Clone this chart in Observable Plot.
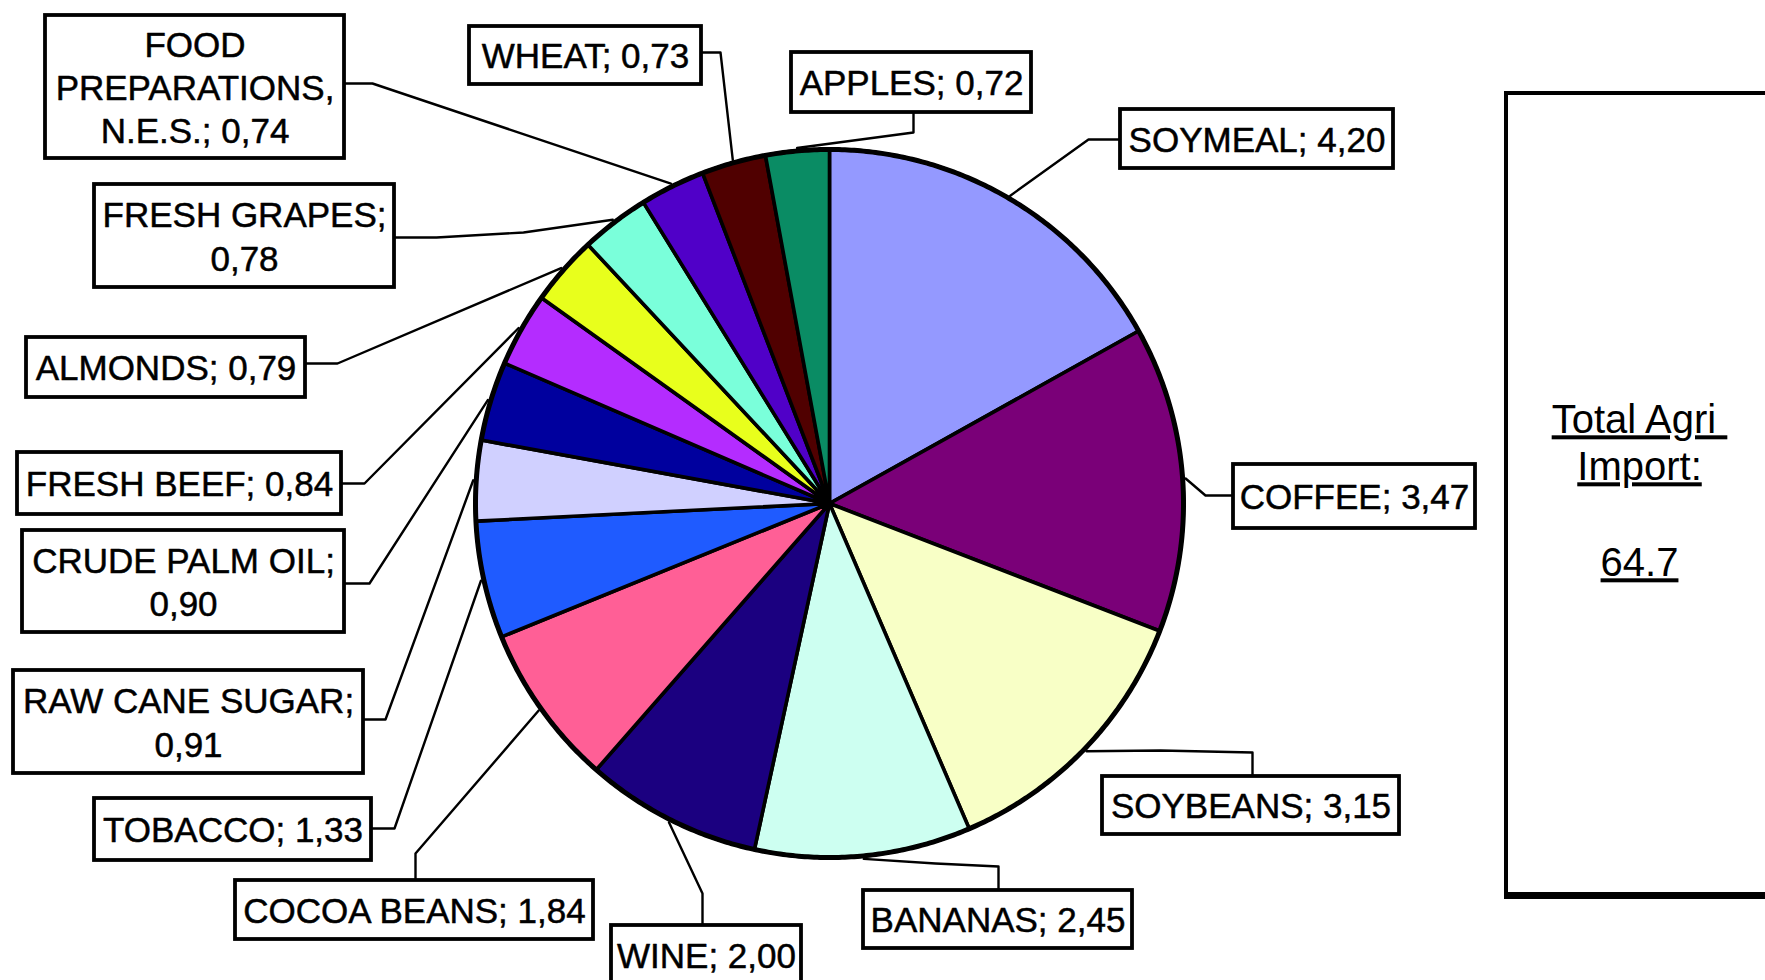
<!DOCTYPE html>
<html><head><meta charset="utf-8">
<script src="https://cdn.jsdelivr.net/npm/d3@7"></script>
<script src="https://cdn.jsdelivr.net/npm/@observablehq/plot@0.6"></script>
<style>
html,body{margin:0;padding:0;background:#fff;overflow:hidden}
#chart svg{display:block}
.ul text{text-decoration:underline}
</style></head><body><div id="chart"></div>
<script>
// ---- data ----
const categories = ["SOYMEAL","COFFEE","SOYBEANS","BANANAS","WINE","COCOA BEANS","TOBACCO",
  "RAW CANE SUGAR","CRUDE PALM OIL","FRESH BEEF","ALMONDS","FRESH GRAPES",
  "FOOD\nPREPARATIONS,\nN.E.S.","WHEAT","APPLES"];
const values = [4.20,3.47,3.15,2.45,2.00,1.84,1.33,0.91,0.90,0.84,0.79,0.78,0.74,0.73,0.72];
const sliceColors = ["#9499ff","#7a0078","#f8ffc6","#cdfff1","#1b0080","#ff5f96","#1f5bff",
  "#d0d0ff","#00009e","#b42cff","#e8ff1c","#7affda","#5000c8","#500000","#0a8c64"];
const totalLines = ["Total Agri\u00a0","Import:","64.7"];

// ---- layout (pixels) ----
const W = 1765, H = 980;
const cx = 829, cy = 503, R = 354;
const labelLayout = [
  {box:[1120,109,1393,168], attach:[1120,139], bends:[[1088,139]], wrap:false},
  {box:[1233,464,1475,528], attach:[1233,495], bends:[[1205,495]], wrap:false},
  {box:[1102,776,1399,834], attach:[1252,776], bends:[[1252,752],[1160,750]], wrap:false},
  {box:[863,890,1132,948], attach:[998,890], bends:[[998,866],[935,863]], wrap:false},
  {box:[611,925,801,985], attach:[702,925], bends:[[702,893]], wrap:false},
  {box:[235,880,593,939], attach:[415,880], bends:[[415,853]], wrap:false},
  {box:[94,798,371,860], attach:[371,828], bends:[[394,828]], wrap:false},
  {box:[13,670,363,773], attach:[363,719], bends:[[385,719]], wrap:true},
  {box:[22,530,344,632], attach:[344,583], bends:[[369,583]], wrap:true},
  {box:[17,452,341,514], attach:[341,483], bends:[[364,483]], wrap:false},
  {box:[26,337,305,397], attach:[305,363], bends:[[337,363]], wrap:false},
  {box:[94,184,394,287], attach:[394,237], bends:[[436,237],[523,232]], wrap:true},
  {box:[45,15,344,158], attach:[344,83], bends:[[372,83]], wrap:false},
  {box:[469,26,701,84], attach:[701,52], bends:[[720,52]], wrap:false},
  {box:[791,52,1031,112], attach:[913,112], bends:[[913,132]], wrap:false}
];
const totalBox = [1506,93,1800,895];
const totalY = [420,467,563];
const totalX = 1639;

// ---- derived ----
const rows = categories.map((name,i)=>({name, value:values[i], color:sliceColors[i], i}));
const arcs = d3.pie().sort(null).value(d=>d.value).startAngle(0).endAngle(2*Math.PI)(rows);
const fmt = v => d3.format(".2f")(v).replace(".", ",");
const pt = (a, r) => ({x: cx + r*Math.sin(a), y: cy - r*Math.cos(a)});

const slicePolys = arcs.map(a => {
  const pts = [{x:cx,y:cy}];
  const n = Math.max(2, Math.ceil((a.endAngle - a.startAngle) / 0.005));
  for (let k=0;k<=n;k++) pts.push(pt(a.startAngle + (a.endAngle-a.startAngle)*k/n, R));
  pts.push({x:cx,y:cy});
  return {color:a.data.color, pts};
});
const circlePts = d3.range(0, 721).map(k => pt(k/720*2*Math.PI, R));

const labels = arcs.map((a,i) => {
  const L = labelLayout[i];
  const mid = (a.startAngle + a.endAngle)/2;
  const e = pt(mid, R + 3);
  const text = a.data.name + ";" + (L.wrap ? "\n" : " ") + fmt(a.data.value);
  return {i, text, x1:L.box[0], y1:L.box[1], x2:L.box[2], y2:L.box[3],
    tx:(L.box[0]+L.box[2])/2, ty:(L.box[1]+L.box[3])/2 - 1,
    path:[L.attach, ...L.bends, [e.x, e.y]]};
});
const leaderPts = labels.flatMap(l => l.path.map(p => ({id:l.i, x:p[0], y:p[1]})));

const marks = [];
marks.push(Plot.line(leaderPts, {x:"x", y:"y", z:"id", stroke:"black", strokeWidth:2.4, curve:"linear"}));
for (const s of slicePolys) {
  marks.push(Plot.line(s.pts, {x:"x", y:"y", fill:s.color, stroke:"black", strokeWidth:3.6, strokeLinejoin:"round"}));
}
marks.push(Plot.line(circlePts, {x:"x", y:"y", stroke:"black", strokeWidth:5}));
marks.push(Plot.rect(labels, {x1:"x1", x2:"x2", y1:"y1", y2:"y2", fill:"white", stroke:"black", strokeWidth:3.8}));
marks.push(Plot.text(labels, {x:"tx", y:"ty", text:"text", fontSize:35, fontFamily:"Liberation Sans, Arial, sans-serif",
  fill:"black", stroke:"black", strokeWidth:0.5, textAnchor:"middle", lineAnchor:"middle", lineHeight:1.24}));
marks.push(Plot.rect([totalBox], {x1:d=>d[0], y1:d=>d[1], x2:d=>d[2], y2:d=>d[3], fill:"white", stroke:"black", strokeWidth:4}));
marks.push(Plot.ruleY([totalBox], {y:d=>d[3], x1:d=>d[0]-2, x2:d=>d[2], stroke:"black", strokeWidth:7}));
marks.push(Plot.text(totalLines, {x:()=>totalX, y:(d,i)=>totalY[i], text:d=>d, fontSize:40,
  fontFamily:"Liberation Sans, Arial, sans-serif", fill:"black", textAnchor:"middle", className:"ul"}));

const chart = Plot.plot({
  width: W, height: H, margin: 0,
  x: {domain:[0,W], range:[0,W], axis:null},
  y: {domain:[0,H], range:[0,H], axis:null},
  style: {background:"white", overflow:"hidden"},
  marks
});
document.getElementById("chart").appendChild(chart);
</script></body></html>
